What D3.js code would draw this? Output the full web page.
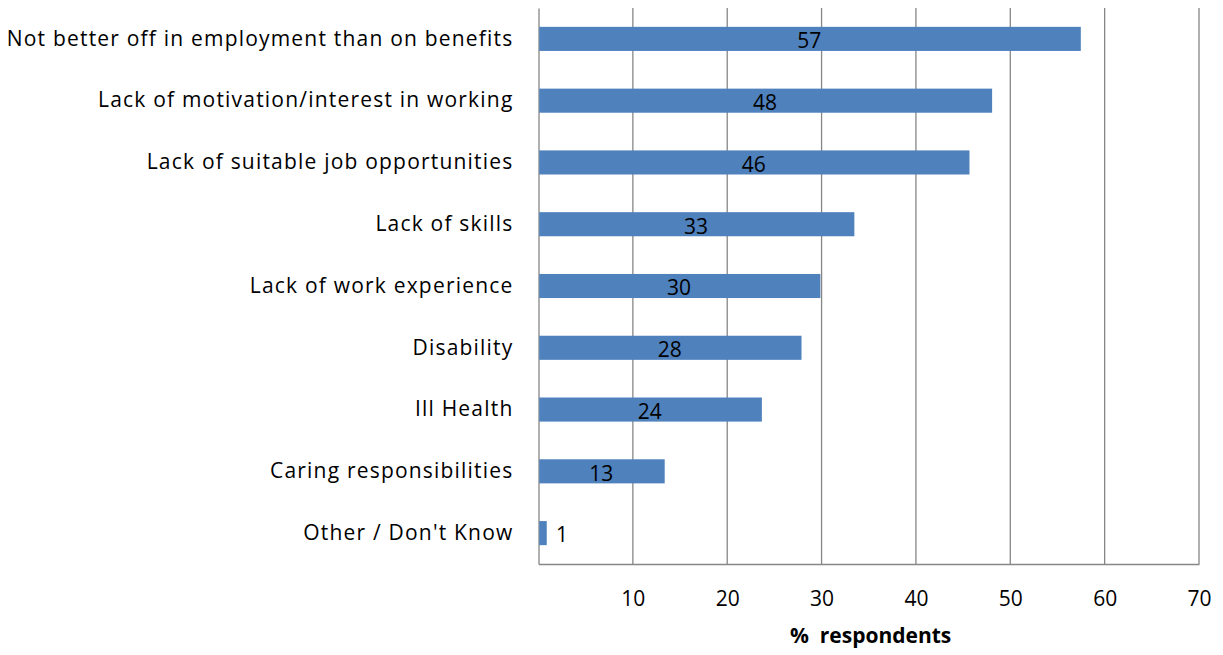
<!DOCTYPE html>
<html>
<head>
<meta charset="utf-8">
<script src="https://d3js.org/d3.v7.min.js"></script>
<style>
body { margin: 0; background: #fff; }
svg text { font-family: "Open Sans", sans-serif; fill: #000; }
</style>
</head>
<body>
<div id="chart"></div>
<script>
var categories = ["Not better off in employment than on benefits", "Lack of motivation/interest in working",
  "Lack of suitable job opportunities", "Lack of skills", "Lack of work experience", "Disability",
  "Ill Health", "Caring responsibilities", "Other / Don't Know"];
var values = [57.4, 48.0, 45.6, 33.4, 29.8, 27.8, 23.6, 13.3, 0.8];
var labels = ["57", "48", "46", "33", "30", "28", "24", "13", "1"];
var xTicks = [10, 20, 30, 40, 50, 60, 70];

var W = 1223, H = 655;
var margin = {top: 8, right: 24, bottom: 91, left: 538.5};
var width = W - margin.left - margin.right,
    height = H - margin.top - margin.bottom;

var svg = d3.select("#chart").append("svg").attr("width", W).attr("height", H)
  .append("g").attr("transform", "translate(" + margin.left + "," + margin.top + ")");

var data = categories.map(function(c, i) { return {cat: c, v: values[i], label: labels[i]}; });

var x = d3.scaleLinear().domain([0, 70]).range([0, width]);
var y = d3.scaleBand().domain(categories).range([0, height]).paddingInner(0.61).paddingOuter(0.305);

// gridlines
svg.append("g").selectAll("line").data(xTicks).enter().append("line")
  .attr("x1", function(d) { return x(d); }).attr("x2", function(d) { return x(d); })
  .attr("y1", 0).attr("y2", height)
  .attr("stroke", "#868686").attr("stroke-width", 1.3);

// bottom axis
var xAxis = svg.append("g").attr("transform", "translate(0," + height + ")")
  .call(d3.axisBottom(x).tickValues(xTicks).tickSize(0).tickPadding(27));
xAxis.select(".domain").attr("stroke", "#868686").attr("stroke-width", 1.3);
xAxis.selectAll("text").style("font-size", "21px").style("font-family", "Open Sans, sans-serif");

// left axis
var yAxis = svg.append("g").call(d3.axisLeft(y).tickSize(0).tickPadding(25));
yAxis.select(".domain").attr("stroke", "#868686").attr("stroke-width", 1.3);
yAxis.selectAll("text").style("font-size", "21px").style("letter-spacing", "1.2px")
  .style("font-family", "Open Sans, sans-serif");

// bars
svg.append("g").selectAll("rect").data(data).enter().append("rect")
  .attr("x", 0.7)
  .attr("y", function(d) { return y(d.cat); })
  .attr("width", function(d) { return x(d.v); })
  .attr("height", y.bandwidth())
  .attr("fill", "#4f81bd");

// value labels
svg.append("g").selectAll("text").data(data).enter().append("text")
  .attr("x", function(d) { return d.v < 3 ? x(d.v) + 10 : x(d.v) / 2; })
  .attr("y", function(d) { return y(d.cat) + y.bandwidth() / 2 + 2; })
  .attr("dy", "0.35em")
  .attr("text-anchor", function(d) { return d.v < 3 ? "start" : "middle"; })
  .style("font-size", "21px")
  .text(function(d) { return d.label; });

svg.append("text")
  .attr("x", x(35.2)).attr("y", height + 79)
  .attr("text-anchor", "middle")
  .style("font-size", "21px").style("font-weight", "bold")
  .style("white-space", "pre")
  .text("%  respondents");
</script>
</body>
</html>
